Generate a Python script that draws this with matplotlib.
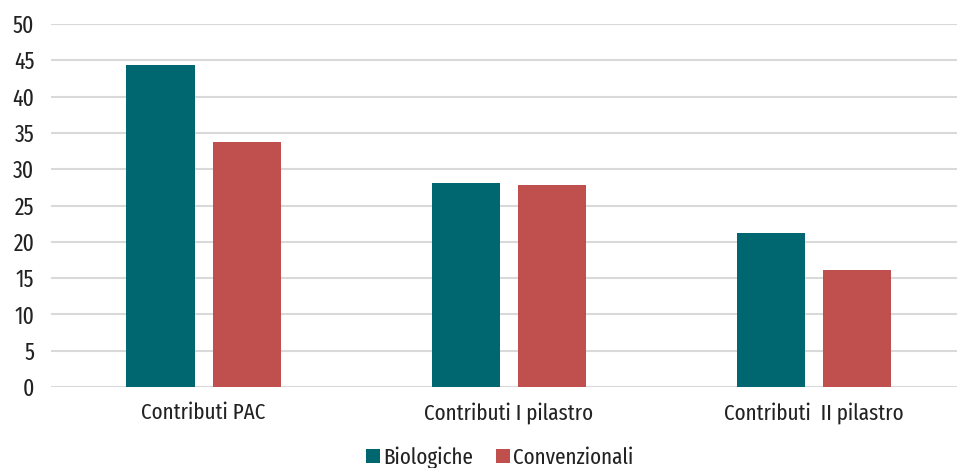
import matplotlib.pyplot as plt
import numpy as np

categories = ["Contributi PAC", "Contributi I pilastro", "Contributi  II pilastro"]
biologiche = [44.4, 28.1, 21.2]
convenzionali = [33.8, 27.8, 16.1]
yticks = [0, 5, 10, 15, 20, 25, 30, 35, 40, 45, 50]

plt.rcParams['font.family'] = ['Fira Sans Extra Condensed', 'DejaVu Sans']

fig = plt.figure(figsize=(9.57, 4.68), dpi=100)
ax = fig.add_axes([51 / 957, 81 / 468, 1 - 51 / 957, 363 / 468])

x = np.arange(len(categories))
w = 0.223
ax.bar(x - 0.141, biologiche, w, color="#006670", label="Biologiche", zorder=3)
ax.bar(x + 0.141, convenzionali, w, color="#C0504D", label="Convenzionali", zorder=3)

ax.set_xlim(-0.5, 2.47)
ax.set_ylim(0, 50)
ax.set_yticks(yticks)
ax.set_xticks(x)
ax.set_xticklabels(categories, fontsize=16.5, color="#222222")
ax.tick_params(axis="y", labelsize=17, colors="#222222", length=0, pad=12)
ax.tick_params(axis="x", length=0, pad=11)
ax.grid(axis="y", color="#d9d9d9", linewidth=1.5, zorder=0)
ax.set_axisbelow(True)
for s in ax.spines.values():
    s.set_visible(False)

fig.legend(loc="center", bbox_to_anchor=(0.522, 0.022), ncol=2, frameon=False,
           fontsize=16.5, handlelength=0.6, handleheight=0.6, handletextpad=0.15,
           columnspacing=1.0, labelcolor="#222222")

fig.savefig("out.png", dpi=100)
